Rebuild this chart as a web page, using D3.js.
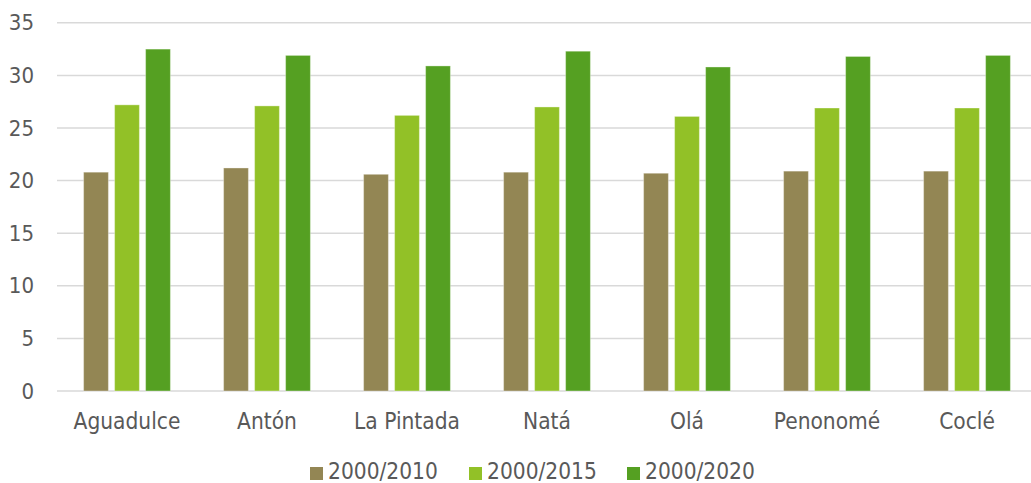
<!DOCTYPE html>
<html>
<head>
<meta charset="utf-8">
<script src="https://cdn.jsdelivr.net/npm/d3@7"></script>
<style>
  html, body { margin: 0; padding: 0; background: #fff; }
  svg { display: block; font-family: "DejaVu Sans Condensed", "DejaVu Sans", sans-serif; font-stretch: condensed; }
</style>
</head>
<body>
<svg id="chart" width="1031" height="483"></svg>
<script>
// Districts of Coclé and the three period series
const categories = ["Aguadulce", "Antón", "La Pintada", "Natá", "Olá", "Penonomé", "Coclé"];
const seriesNames = ["2000/2010", "2000/2015", "2000/2020"];
const values2010 = [20.8, 21.2, 20.6, 20.8, 20.7, 20.9, 20.9];
const values2015 = [27.2, 27.1, 26.2, 27.0, 26.1, 26.9, 26.9];
const values2020 = [32.5, 31.9, 30.9, 32.3, 30.8, 31.8, 31.9];
const yTicks = [0, 5, 10, 15, 20, 25, 30, 35];
const seriesColors = ["#938654", "#92c127", "#55a022"];

const seriesValues = [values2010, values2015, values2020];
const fontFamily = "'DejaVu Sans Condensed', 'DejaVu Sans', sans-serif";

const svg = d3.select("#chart");

const x = d3.scaleBand().domain(categories).range([57, 1037]).padding(0);
const xInner = d3.scaleBand()
  .domain(seriesNames)
  .range([x.bandwidth() * 0.19, x.bandwidth() * 0.81])
  .paddingInner(0.2);
const y = d3.scaleLinear().domain([0, 35]).range([391, 22.8]);

// Horizontal gridlines
svg.append("g")
  .selectAll("line")
  .data(yTicks)
  .join("line")
  .attr("x1", 57)
  .attr("x2", 1037)
  .attr("y1", d => y(d))
  .attr("y2", d => y(d))
  .attr("stroke", "#d9d9d9")
  .attr("stroke-width", 1.5);

// Y axis labels
const yAxis = d3.axisLeft(y).tickValues(yTicks).tickSize(0).tickPadding(0);
const yg = svg.append("g").attr("transform", "translate(34,0)").call(yAxis);
yg.select(".domain").remove();
yg.selectAll("text")
  .attr("fill", "#595959")
  .style("font-size", "22px")
  .style("font-family", fontFamily);

// Bars
const groups = svg.append("g")
  .selectAll("g")
  .data(categories)
  .join("g")
  .attr("transform", d => `translate(${x(d)},0)`);

groups.selectAll("rect")
  .data((c, i) => seriesNames.map((s, k) => ({ series: s, k, value: seriesValues[k][i] })))
  .join("rect")
  .attr("x", d => xInner(d.series))
  .attr("width", xInner.bandwidth())
  .attr("y", d => y(d.value))
  .attr("height", d => y(0) - y(d.value))
  .attr("fill", d => seriesColors[d.k])
  .attr("stroke", "rgba(255,255,255,0.35)")
  .attr("stroke-width", 1);

// X axis labels
const xAxis = d3.axisBottom(x).tickSize(0).tickPadding(0);
const xg = svg.append("g").attr("transform", "translate(0,428.5)").call(xAxis);
xg.select(".domain").remove();
xg.selectAll("text")
  .attr("fill", "#595959")
  .attr("dy", "0")
  .style("font-size", "22.5px")
  .style("font-family", fontFamily);

// Legend
const legendX = [310, 469, 627];
const legend = svg.append("g")
  .selectAll("g")
  .data(seriesNames)
  .join("g")
  .attr("transform", (d, i) => `translate(${legendX[i]},467)`);

legend.append("rect")
  .attr("width", 13)
  .attr("height", 13)
  .attr("fill", (d, i) => seriesColors[i]);

legend.append("text")
  .attr("x", 18)
  .attr("y", 12.3)
  .attr("fill", "#595959")
  .style("font-size", "22.5px")
  .style("font-family", fontFamily)
  .text(d => d);
</script>
</body>
</html>
